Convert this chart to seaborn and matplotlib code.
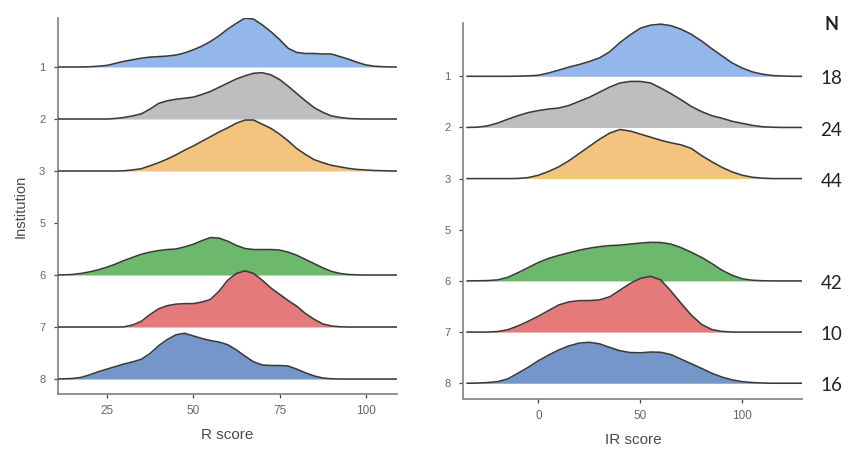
import numpy as np
import seaborn as sns
import matplotlib.pyplot as plt

# institutions, top to bottom (5 has no data)
institutions = ["1", "2", "3", "5", "6", "7", "8"]
n_counts = ["18", "24", "44", "", "42", "10", "16"]
colors = {"1": "#93b7ea", "2": "#bebebe", "3": "#f2c47e",
          "6": "#6cb86c", "7": "#e57a7a", "8": "#7596c9"}

# R score density (height in ridge rows), x = 10 .. 110 step 2.5
r_grid = np.arange(10, 110.1, 2.5)
r_1 = [0, 0, 0, 0, 0.005, 0.015, 0.03, 0.07, 0.11, 0.14, 0.17, 0.19, 0.20, 0.21,
       0.23, 0.27, 0.33, 0.40, 0.49, 0.60, 0.73, 0.84, 0.94, 0.92, 0.81, 0.68, 0.53,
       0.36, 0.28, 0.26, 0.26, 0.25, 0.25, 0.20, 0.15, 0.09, 0.04, 0.015, 0.005, 0, 0]
r_2 = [0, 0, 0, 0, 0, 0, 0, 0.01, 0.03, 0.06, 0.10, 0.19, 0.30, 0.35, 0.38, 0.40,
       0.42, 0.47, 0.53, 0.61, 0.69, 0.77, 0.83, 0.88, 0.89, 0.85, 0.76, 0.63, 0.49,
       0.35, 0.22, 0.13, 0.06, 0.03, 0.01, 0.003, 0, 0, 0, 0, 0]
r_3 = [0, 0, 0, 0, 0, 0, 0, 0, 0.005, 0.02, 0.045, 0.10, 0.16, 0.23, 0.31, 0.40,
       0.48, 0.57, 0.66, 0.75, 0.83, 0.92, 0.98, 0.98, 0.90, 0.82, 0.71, 0.58, 0.43,
       0.32, 0.22, 0.16, 0.11, 0.08, 0.05, 0.03, 0.02, 0.01, 0.005, 0, 0]
r_6 = [0, 0.003, 0.01, 0.03, 0.06, 0.10, 0.15, 0.21, 0.28, 0.34, 0.40, 0.44, 0.47,
       0.49, 0.50, 0.54, 0.59, 0.66, 0.72, 0.71, 0.65, 0.57, 0.51, 0.49, 0.49, 0.49,
       0.48, 0.44, 0.38, 0.30, 0.22, 0.14, 0.07, 0.03, 0.01, 0.003, 0, 0, 0, 0, 0]
r_7 = [0, 0, 0, 0, 0, 0, 0, 0, 0.003, 0.04, 0.11, 0.24, 0.35, 0.41, 0.44, 0.45,
       0.45, 0.48, 0.53, 0.69, 0.90, 1.03, 1.08, 1.03, 0.90, 0.75, 0.63, 0.51, 0.40,
       0.26, 0.15, 0.06, 0.02, 0.005, 0, 0, 0, 0, 0, 0, 0]
r_8 = [0, 0.003, 0.01, 0.03, 0.08, 0.14, 0.19, 0.24, 0.29, 0.33, 0.38, 0.49, 0.64,
       0.76, 0.85, 0.88, 0.83, 0.78, 0.74, 0.71, 0.66, 0.56, 0.44, 0.33, 0.27, 0.26,
       0.26, 0.25, 0.19, 0.12, 0.06, 0.02, 0.005, 0, 0, 0, 0, 0, 0, 0, 0]

# IR score density, x = -35 .. 130 step 5
ir_grid = np.arange(-35, 130.1, 5)
ir_1 = [0, 0, 0, 0, 0, 0.003, 0.008, 0.02, 0.065, 0.12, 0.18, 0.23, 0.29, 0.36, 0.48,
        0.66, 0.81, 0.94, 1.00, 1.02, 0.99, 0.92, 0.82, 0.69, 0.54, 0.40, 0.26, 0.16,
        0.085, 0.04, 0.015, 0.005, 0, 0]
ir_2 = [0, 0.005, 0.03, 0.085, 0.16, 0.23, 0.29, 0.33, 0.36, 0.38, 0.43, 0.51, 0.59,
        0.69, 0.79, 0.87, 0.90, 0.90, 0.87, 0.77, 0.66, 0.54, 0.41, 0.31, 0.23, 0.18,
        0.12, 0.08, 0.04, 0.013, 0.004, 0, 0, 0]
ir_3 = [0, 0, 0, 0, 0, 0.003, 0.02, 0.065, 0.14, 0.23, 0.35, 0.49, 0.63, 0.77, 0.89,
        0.96, 0.93, 0.87, 0.81, 0.75, 0.70, 0.66, 0.59, 0.45, 0.33, 0.22, 0.13, 0.065,
        0.026, 0.008, 0, 0, 0, 0]
ir_6 = [0, 0.003, 0.006, 0.02, 0.07, 0.16, 0.26, 0.36, 0.44, 0.50, 0.55, 0.60, 0.64,
        0.67, 0.69, 0.70, 0.72, 0.74, 0.755, 0.75, 0.72, 0.65, 0.56, 0.46, 0.34, 0.21,
        0.11, 0.04, 0.013, 0.003, 0, 0, 0, 0]
ir_7 = [0, 0, 0, 0.01, 0.045, 0.12, 0.21, 0.31, 0.42, 0.53, 0.59, 0.615, 0.615, 0.63,
        0.69, 0.82, 0.95, 1.05, 1.09, 1.02, 0.80, 0.56, 0.33, 0.15, 0.05, 0.013, 0, 0,
        0, 0, 0, 0, 0, 0]
ir_8 = [0, 0.003, 0.013, 0.03, 0.085, 0.195, 0.31, 0.44, 0.55, 0.65, 0.73, 0.785, 0.80,
        0.77, 0.70, 0.635, 0.60, 0.595, 0.61, 0.605, 0.56, 0.47, 0.38, 0.29, 0.195, 0.12,
        0.065, 0.03, 0.013, 0.004, 0, 0, 0, 0]

r_density = {"1": r_1, "2": r_2, "3": r_3, "6": r_6, "7": r_7, "8": r_8}
ir_density = {"1": ir_1, "2": ir_2, "3": ir_3, "6": ir_6, "7": ir_7, "8": ir_8}

sns.set_theme(style="ticks")
plt.rcParams["font.family"] = ["Liberation Sans", "DejaVu Sans"]

fig = plt.figure(figsize=(8.5, 4.53), dpi=100)
ax1 = fig.add_axes([0.068, 0.130, 0.399, 0.830])
ax2 = fig.add_axes([0.545, 0.119, 0.399, 0.830])


def ridges(ax, grid, dens, xlim, ylim, ticks, xlabel):
    n = len(institutions)
    for i, inst in enumerate(institutions):
        if inst not in dens:
            continue
        base = n - 1 - i
        h = np.asarray(dens[inst])
        ax.fill_between(grid, base, base + h, color=colors[inst], lw=0, zorder=2 + 2 * i)
        sns.lineplot(x=grid, y=base + h, ax=ax, color="#3a3a3a", lw=1.15,
                     zorder=3 + 2 * i)
    ax.set_xlim(*xlim)
    ax.set_ylim(*ylim)
    ax.set_xticks(ticks)
    ax.set_yticks(range(n))
    ax.set_yticklabels(institutions[::-1])
    ax.set_xlabel(xlabel, fontsize=11, color="#4a4a4a", labelpad=8)
    ax.set_ylabel("")
    ax.tick_params(axis="both", labelsize=8.5, labelcolor="#666666", color="#444444",
                   length=3, width=0.9, pad=5)
    ax.tick_params(axis="y", labelsize=8, pad=6)
    for side in ["top", "right"]:
        ax.spines[side].set_visible(False)
    for side in ["left", "bottom"]:
        ax.spines[side].set_color("#8a8a8a")
        ax.spines[side].set_linewidth(1.3)


ridges(ax1, r_grid, r_density, (10.8, 109), (-0.29, 6.94), [25, 50, 75, 100], "R score")
ridges(ax2, ir_grid, ir_density, (-36.8, 129.4), (-0.31, 7.04), [0, 50, 100], "IR score")
ax1.set_ylabel("Institution", fontsize=10.5, color="#4a4a4a", labelpad=8)

# N column
trans = ax2.get_yaxis_transform()
n = len(institutions)
ax2.text(1.085, 7.02, "N", transform=trans, fontsize=13, fontweight="bold",
         family="Lato", ha="center", va="center", color="#222222", clip_on=False)
for i, cnt in enumerate(n_counts):
    if cnt:
        ax2.text(1.085, n - 1 - i - 0.05, cnt, transform=trans, fontsize=13.5,
                 family="Lato", ha="center", va="center", color="#222222", clip_on=False)

fig.savefig("out.png", dpi=100)
plt.close()
